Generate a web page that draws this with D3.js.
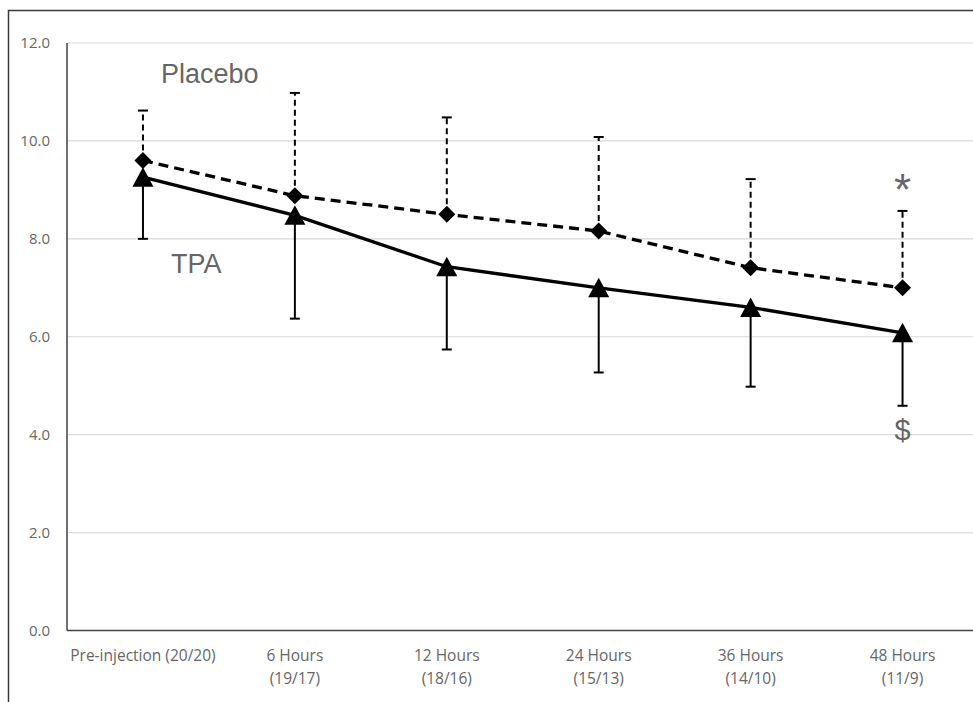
<!doctype html>
<html>
<head>
  <meta charset="utf-8">
  <style>
    body { margin: 0; background: #fff; }
    svg { display: block; }
  </style>
  <script src="https://cdn.jsdelivr.net/npm/d3@7/dist/d3.min.js"></script>
</head>
<body>
  <script>
  // data
  var categories = ["Pre-injection (20/20)", "6 Hours (19/17)", "12 Hours (18/16)",
                    "24 Hours (15/13)", "36 Hours (14/10)", "48 Hours (11/9)"];
  var tickLines = [["Pre-injection (20/20)"], ["6 Hours", "(19/17)"], ["12 Hours", "(18/16)"],
                   ["24 Hours", "(15/13)"], ["36 Hours", "(14/10)"], ["48 Hours", "(11/9)"]];
  var placebo = [9.6, 8.88, 8.5, 8.16, 7.41, 7.0];
  var placeboUpper = [10.62, 10.98, 10.48, 10.08, 9.22, 8.57];
  var tpa = [9.26, 8.48, 7.43, 7.0, 6.6, 6.08];
  var tpaLower = [8.0, 6.37, 5.74, 5.27, 4.98, 4.59];
  var yTicks = [0, 2, 4, 6, 8, 10, 12];

  var svgW = 973, svgH = 702;
  var svg = d3.select("body").append("svg")
      .attr("width", svgW)
      .attr("height", svgH);

  // outer frame (runs off right and bottom)
  svg.append("rect")
      .attr("x", 8.5).attr("y", 10.5)
      .attr("width", 1000).attr("height", 1000)
      .attr("fill", "none")
      .attr("stroke", "#3a3a3a")
      .attr("stroke-width", 1.5);

  var x = d3.scaleBand().domain(categories).range([67, 978.5]).padding(0);
  var y = d3.scaleLinear().domain([0, 12]).range([630.5, 43]);
  function cx(i) { return x(categories[i]) + x.bandwidth() / 2; }

  // gridlines
  svg.append("g").selectAll("line")
      .data(yTicks.filter(function(d) { return d > 0; }))
      .enter().append("line")
      .attr("x1", 67).attr("x2", svgW)
      .attr("y1", function(d) { return y(d); })
      .attr("y2", function(d) { return y(d); })
      .attr("stroke", "#d9d9d9")
      .attr("stroke-width", 1.2);

  // y axis labels
  var yAxis = d3.axisLeft(y).tickValues(yTicks).tickFormat(d3.format(".1f")).tickSize(0).tickPadding(17);
  var gy = svg.append("g").attr("transform", "translate(67,0)").call(yAxis);
  gy.select(".domain").remove();
  gy.selectAll("text")
      .attr("font-family", "'Open Sans', sans-serif")
      .attr("font-size", "15px")
      .attr("fill", "#666");

  // axis lines
  svg.append("line")
      .attr("x1", 67).attr("x2", 67)
      .attr("y1", y(12)).attr("y2", y(0))
      .attr("stroke", "#404040").attr("stroke-width", 1.5);
  svg.append("line")
      .attr("x1", 67).attr("x2", svgW)
      .attr("y1", y(0)).attr("y2", y(0))
      .attr("stroke", "#404040").attr("stroke-width", 1.5);

  // x labels
  var xl = svg.append("g").selectAll("text")
      .data(tickLines)
      .enter().append("text")
      .attr("text-anchor", "middle")
      .attr("font-family", "'Open Sans', sans-serif")
      .attr("font-size", "15.5px")
      .attr("fill", "#666")
      .attr("x", function(d, i) { return cx(i); })
      .attr("y", 661);
  xl.selectAll("tspan")
      .data(function(d, i) { return d.map(function(t) { return {t: t, i: i}; }); })
      .enter().append("tspan")
      .attr("x", function(d) { return cx(d.i); })
      .attr("dy", function(d, j) { return j === 0 ? 0 : 23; })
      .text(function(d) { return d.t; });

  var line = d3.line()
      .x(function(d, i) { return cx(i); })
      .y(function(d) { return y(d); });

  // placebo error bars (upper, dashed)
  var pe = svg.append("g");
  pe.selectAll("line.v").data(placeboUpper).enter().append("line")
      .attr("x1", function(d, i) { return cx(i); })
      .attr("x2", function(d, i) { return cx(i); })
      .attr("y1", function(d, i) { return y(placebo[i]); })
      .attr("y2", function(d) { return y(d); })
      .attr("stroke", "#000").attr("stroke-width", 2)
      .attr("stroke-dasharray", "6,4");
  pe.selectAll("line.c").data(placeboUpper).enter().append("line")
      .attr("x1", function(d, i) { return cx(i) - 5; })
      .attr("x2", function(d, i) { return cx(i) + 5; })
      .attr("y1", function(d) { return y(d); })
      .attr("y2", function(d) { return y(d); })
      .attr("stroke", "#000").attr("stroke-width", 2);

  // tpa error bars (lower, solid)
  var te = svg.append("g");
  te.selectAll("line.v").data(tpaLower).enter().append("line")
      .attr("x1", function(d, i) { return cx(i); })
      .attr("x2", function(d, i) { return cx(i); })
      .attr("y1", function(d, i) { return y(tpa[i]); })
      .attr("y2", function(d) { return y(d); })
      .attr("stroke", "#000").attr("stroke-width", 2);
  te.selectAll("line.c").data(tpaLower).enter().append("line")
      .attr("x1", function(d, i) { return cx(i) - 5; })
      .attr("x2", function(d, i) { return cx(i) + 5; })
      .attr("y1", function(d) { return y(d); })
      .attr("y2", function(d) { return y(d); })
      .attr("stroke", "#000").attr("stroke-width", 2);

  // lines
  svg.append("path").datum(placebo)
      .attr("d", line)
      .attr("fill", "none")
      .attr("stroke", "#000").attr("stroke-width", 3.3)
      .attr("stroke-dasharray", "10,6");
  svg.append("path").datum(tpa)
      .attr("d", line)
      .attr("fill", "none")
      .attr("stroke", "#000").attr("stroke-width", 3.3);

  // markers
  svg.append("g").selectAll("path")
      .data(placebo).enter().append("path")
      .attr("d", "M0,-8.5L8.5,0L0,8.5L-8.5,0Z")
      .attr("transform", function(d, i) { return "translate(" + cx(i) + "," + y(d) + ")"; })
      .attr("fill", "#000");
  svg.append("g").selectAll("path")
      .data(tpa).enter().append("path")
      .attr("d", "M0,-10L10.5,9.5L-10.5,9.5Z")
      .attr("transform", function(d, i) { return "translate(" + cx(i) + "," + y(d) + ")"; })
      .attr("fill", "#000");

  // annotations
  var ann = svg.append("g")
      .attr("font-family", "'Liberation Sans', Arial, sans-serif")
      .attr("fill", "#666");
  ann.append("text").attr("x", 161).attr("y", 83).attr("font-size", "27px").text("Placebo");
  ann.append("text").attr("x", 171).attr("y", 273).attr("font-size", "27px").text("TPA");
  ann.append("text").attr("x", cx(5)).attr("y", y(placeboUpper[5]) - 6)
      .attr("text-anchor", "middle").attr("font-size", "44px").text("*");
  ann.append("text").attr("x", cx(5)).attr("y", y(tpaLower[5]) + 34)
      .attr("text-anchor", "middle").attr("font-size", "29px").text("$");
  </script>
</body>
</html>
